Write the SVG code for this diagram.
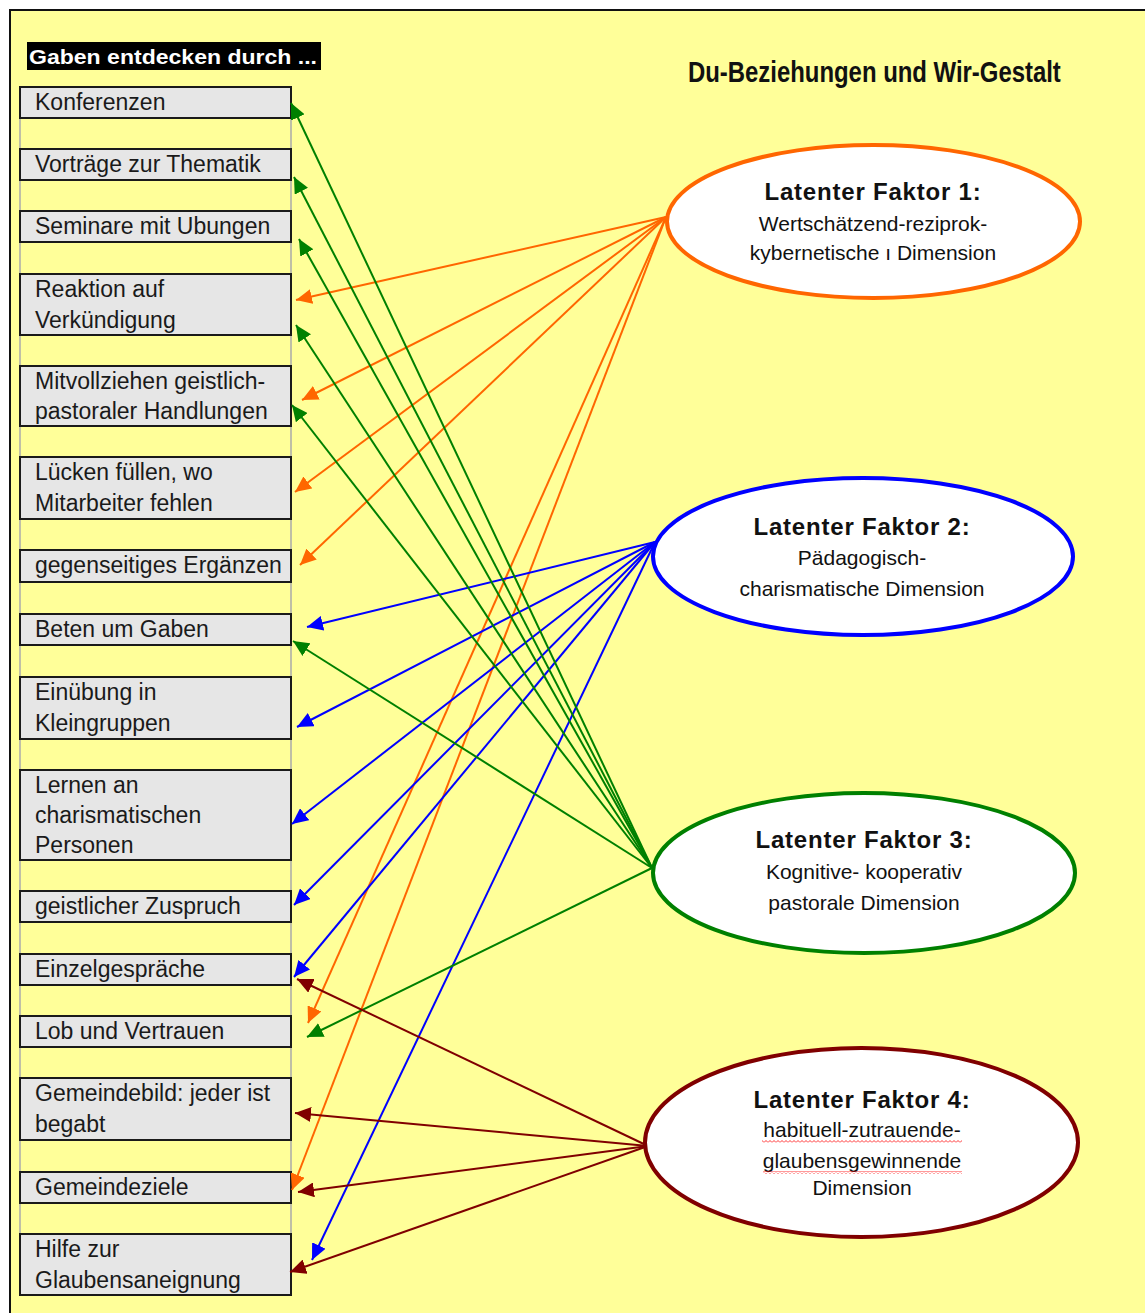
<svg xmlns="http://www.w3.org/2000/svg" width="1145" height="1313" viewBox="0 0 1145 1313">
<style>
.box{fill:#e6e6e6;stroke:#1a1a1a;stroke-width:2}
.bt{font-family:"Liberation Sans",Arial,sans-serif;font-size:23px;fill:#1a1a1a}
.el{fill:#fff;stroke-width:4}
.h{font-family:"Liberation Sans",Arial,sans-serif;font-size:24px;font-weight:bold;fill:#111;text-anchor:middle;letter-spacing:0.8px}
.s{font-family:"Liberation Sans",Arial,sans-serif;font-size:21px;fill:#111;text-anchor:middle}
.c{fill:none;stroke-width:2}
.o{stroke:#ff6600;marker-end:url(#ao)}
.b{stroke:#0000ff;marker-end:url(#ab)}
.g{stroke:#008000;marker-end:url(#ag)}
.r{stroke:#800000;marker-end:url(#ar)}
</style>
<defs>
<marker id="ao" markerUnits="userSpaceOnUse" markerWidth="17" markerHeight="15" refX="16" refY="7.5" orient="auto"><path d="M0,0 L16,7.5 L0,15 z" fill="#ff6600"/></marker>
<marker id="ab" markerUnits="userSpaceOnUse" markerWidth="17" markerHeight="15" refX="16" refY="7.5" orient="auto"><path d="M0,0 L16,7.5 L0,15 z" fill="#0000ff"/></marker>
<marker id="ag" markerUnits="userSpaceOnUse" markerWidth="17" markerHeight="15" refX="16" refY="7.5" orient="auto"><path d="M0,0 L16,7.5 L0,15 z" fill="#008000"/></marker>
<marker id="ar" markerUnits="userSpaceOnUse" markerWidth="17" markerHeight="15" refX="16" refY="7.5" orient="auto"><path d="M0,0 L16,7.5 L0,15 z" fill="#800000"/></marker>
<pattern id="wave" width="4" height="3" patternUnits="userSpaceOnUse"><path d="M0,2.5 L2,0.5 L4,2.5" fill="none" stroke="#ff0000" stroke-width="0.8"/></pattern>
</defs>
<rect x="0" y="0" width="1145" height="1313" fill="#fff"/>
<rect x="10" y="10" width="1200" height="1400" fill="#ffff99" stroke="#111" stroke-width="2"/>
<g id="header">
<rect x="27" y="42" width="294" height="28" fill="#000"/>
<text x="29" y="64" font-family="'Liberation Sans',Arial,sans-serif" font-size="21" font-weight="bold" fill="#fff" textLength="288" lengthAdjust="spacingAndGlyphs">Gaben entdecken durch ...</text>
</g>
<g id="title">
<text transform="translate(688,82) scale(0.797,1)" x="0" y="0" font-family="'Liberation Sans',Arial,sans-serif" font-size="30" font-weight="bold" fill="#111">Du-Beziehungen und Wir-Gestalt</text>
</g>
<rect id="panel" x="20" y="87" width="271" height="1208" fill="none" stroke="#aaa" stroke-width="1.5"/>
<g id="n1"><rect class="box" x="20" y="87" width="271" height="31"/><text class="bt" x="35" y="110">Konferenzen</text></g>
<g id="n2"><rect class="box" x="20" y="149" width="271" height="31"/><text class="bt" x="35" y="172">Vorträge zur Thematik</text></g>
<g id="n3"><rect class="box" x="20" y="211" width="271" height="31"/><text class="bt" x="35" y="234">Seminare mit Ubungen</text></g>
<g id="n4"><rect class="box" x="20" y="274" width="271" height="61"/><text class="bt" x="35" y="297">Reaktion auf</text><text class="bt" x="35" y="328">Verkündigung</text></g>
<g id="n5"><rect class="box" x="20" y="366" width="271" height="60"/><text class="bt" x="35" y="389">Mitvollziehen geistlich-</text><text class="bt" x="35" y="419">pastoraler Handlungen</text></g>
<g id="n6"><rect class="box" x="20" y="457" width="271" height="62"/><text class="bt" x="35" y="480">Lücken füllen, wo</text><text class="bt" x="35" y="511">Mitarbeiter fehlen</text></g>
<g id="n7"><rect class="box" x="20" y="550" width="271" height="32"/><text class="bt" x="35" y="573">gegenseitiges Ergänzen</text></g>
<g id="n8"><rect class="box" x="20" y="614" width="271" height="31"/><text class="bt" x="35" y="637">Beten um Gaben</text></g>
<g id="n9"><rect class="box" x="20" y="677" width="271" height="62"/><text class="bt" x="35" y="700">Einübung in</text><text class="bt" x="35" y="731">Kleingruppen</text></g>
<g id="n10"><rect class="box" x="20" y="770" width="271" height="90"/><text class="bt" x="35" y="793">Lernen an</text><text class="bt" x="35" y="823">charismatischen</text><text class="bt" x="35" y="853">Personen</text></g>
<g id="n11"><rect class="box" x="20" y="891" width="271" height="31"/><text class="bt" x="35" y="914">geistlicher Zuspruch</text></g>
<g id="n12"><rect class="box" x="20" y="954" width="271" height="31"/><text class="bt" x="35" y="977">Einzelgespräche</text></g>
<g id="n13"><rect class="box" x="20" y="1016" width="271" height="31"/><text class="bt" x="35" y="1039">Lob und Vertrauen</text></g>
<g id="n14"><rect class="box" x="20" y="1078" width="271" height="62"/><text class="bt" x="35" y="1101">Gemeindebild: jeder ist</text><text class="bt" x="35" y="1132">begabt</text></g>
<g id="n15"><rect class="box" x="20" y="1172" width="271" height="31"/><text class="bt" x="35" y="1195">Gemeindeziele</text></g>
<g id="n16"><rect class="box" x="20" y="1234" width="271" height="61"/><text class="bt" x="35" y="1257">Hilfe zur</text><text class="bt" x="35" y="1288">Glaubensaneignung</text></g>
<g id="connectors">
<line class="c o" x1="666" y1="217" x2="296" y2="300"/>
<line class="c o" x1="666" y1="217" x2="302" y2="400"/>
<line class="c o" x1="666" y1="217" x2="295" y2="492"/>
<line class="c o" x1="666" y1="217" x2="300" y2="565"/>
<line class="c o" x1="666" y1="217" x2="308" y2="1023"/>
<line class="c o" x1="666" y1="217" x2="292" y2="1190"/>
<line class="c b" x1="655" y1="542" x2="307" y2="627"/>
<line class="c b" x1="655" y1="542" x2="297" y2="727"/>
<line class="c b" x1="655" y1="542" x2="292" y2="824"/>
<line class="c b" x1="655" y1="542" x2="294" y2="905"/>
<line class="c b" x1="655" y1="542" x2="294" y2="977"/>
<line class="c b" x1="655" y1="542" x2="312" y2="1260"/>
<line class="c g" x1="652" y1="868" x2="291" y2="103"/>
<line class="c g" x1="652" y1="868" x2="294" y2="177"/>
<line class="c g" x1="652" y1="868" x2="299" y2="239"/>
<line class="c g" x1="652" y1="868" x2="296" y2="325"/>
<line class="c g" x1="652" y1="868" x2="292" y2="405"/>
<line class="c g" x1="652" y1="868" x2="293" y2="641"/>
<line class="c g" x1="652" y1="868" x2="307" y2="1037"/>
<line class="c r" x1="648" y1="1146" x2="297" y2="979"/>
<line class="c r" x1="648" y1="1146" x2="295" y2="1113"/>
<line class="c r" x1="648" y1="1146" x2="298" y2="1192"/>
<line class="c r" x1="648" y1="1146" x2="290" y2="1272"/>
</g>
<g id="f1"><ellipse class="el" cx="873.5" cy="221.5" rx="206.5" ry="76.5" stroke="#ff6600" stroke-width="3.5"/>
<text class="h" x="873" y="200">Latenter Faktor 1:</text>
<text class="s" x="873" y="231">Wertschätzend-reziprok-</text>
<text class="s" x="873" y="260">kybernetische ı Dimension</text></g>
<g id="f2"><ellipse class="el" cx="863" cy="556.5" rx="210" ry="78.5" stroke="#0000ff"/>
<text class="h" x="862" y="535">Latenter Faktor 2:</text>
<text class="s" x="862" y="565">Pädagogisch-</text>
<text class="s" x="862" y="596">charismatische Dimension</text></g>
<g id="f3"><ellipse class="el" cx="864" cy="873" rx="211" ry="80" stroke="#008000"/>
<text class="h" x="864" y="848">Latenter Faktor 3:</text>
<text class="s" x="864" y="879">Kognitive- kooperativ</text>
<text class="s" x="864" y="910">pastorale Dimension</text></g>
<g id="f4"><ellipse class="el" cx="861.5" cy="1142.5" rx="216.5" ry="94.5" stroke="#800000"/>
<text class="h" x="862" y="1108">Latenter Faktor 4:</text>
<text class="s" x="862" y="1137">habituell-zutrauende-</text>
<text class="s" x="862" y="1168">glaubensgewinnende</text>
<text class="s" x="862" y="1195">Dimension</text>
<rect x="762" y="1140" width="200" height="3" fill="url(#wave)"/>
<rect x="763" y="1171" width="199" height="3" fill="url(#wave)"/></g>
</svg>
